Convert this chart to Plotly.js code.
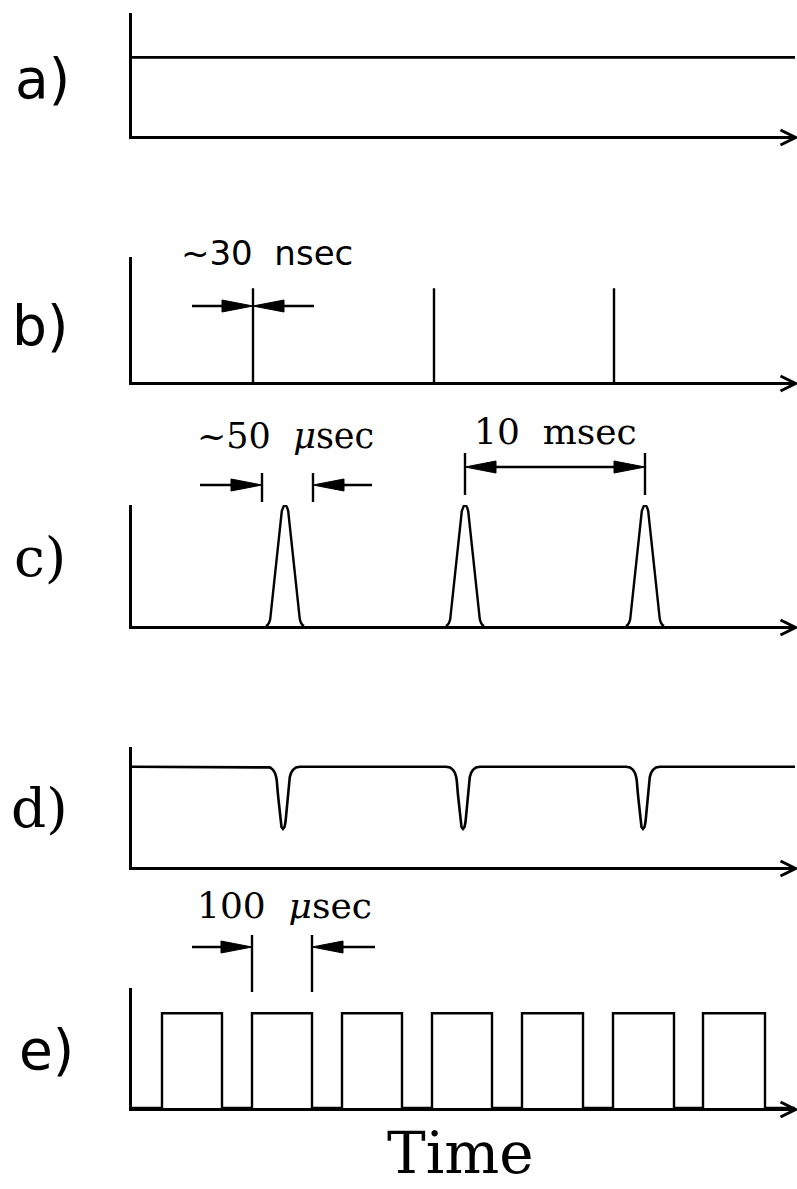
<!DOCTYPE html>
<html>
<head>
<meta charset="utf-8">
<script src="https://cdn.plot.ly/plotly-3.0.1.min.js"></script>
<style>
html,body{margin:0;padding:0;background:#fff;}
#chart{width:797px;height:1189px;}
</style>
</head>
<body>
<div id="chart"></div>
<script>
const W = 797, H = 1189;

// ---------------- data (time in arbitrary units, 0 = vertical axis) ----------------
const timeAxisRange = [0, 663];
const panelLabels = ['a)', 'b)', 'c)', 'd)', 'e)'];

// a) continuous signal
const cwTimes = [0, 663];
const cwLevels = [0.64, 0.64];

// b) ~30 nsec spikes
const spikeTimes = [121, 302, 482];
const spikeHeights = [0.75, 0.75, 0.75];

// c) ~50 usec pulses, 10 msec apart
const pulseCTimes = [153, 333, 513];
const pulseCOffsets = [-19, -17.5, -16, -14.8, -3.2, -2.2, -1.2, 0, 1.2, 2.2, 3.2, 14.8, 16, 17.5, 19];
const pulseCLevels  = [0, 0.008, 0.025, 0.055, 0.95, 0.978, 0.992, 0.996, 0.992, 0.978, 0.95, 0.055, 0.025, 0.008, 0];
const cWidthTicks = [130, 181];

// d) dips in a steady level
const dipTimes = [151, 331, 511];
const dipBaseline = 0.835;
const dipOffsets = [-17, -13, -10, -8, -6.8, -6.2, -5, -2.5, -1.5, 0, 1.5, 2.5, 5, 6.2, 6.8, 8, 10, 13, 17];
const dipLevels  = [0.835, 0.83, 0.81, 0.783, 0.75, 0.717, 0.6, 0.375, 0.333, 0.317, 0.333, 0.375, 0.6, 0.717, 0.75, 0.783, 0.81, 0.83, 0.835];

// e) 100 usec square pulses
const squareRise = [30, 120, 210, 300, 390, 481, 571];
const squareFall = [90, 180, 270, 360, 451, 542, 633];
const squareHigh = 0.79;

// text
const textB = '~30\u00a0\u00a0nsec';
const textCWidth = '~50\u00a0\u00a0<i>\u03bc</i>sec';
const textCPeriod = '10\u00a0\u00a0msec';
const textE = '100\u00a0\u00a0<i>\u03bc</i>sec';
const xTitle = 'Time';

// ---------------- layout geometry ----------------
const panelTop = [13, 257, 505, 747, 988];
const panelBottom = [136, 382, 626, 867, 1108];
const xDomain = [132 / W, 795 / W];
const py = p => 1 - p / H;
const px = p => p / W;

const traces = [];
const lineStyle = w => ({color: '#000', width: w});

// a
traces.push({x: cwTimes, y: cwLevels, xaxis: 'x', yaxis: 'y', mode: 'lines', line: lineStyle(2.8), hoverinfo: 'skip'});

// b
const bx = [], by = [];
spikeTimes.forEach((t, i) => { bx.push(t, t, null); by.push(0, spikeHeights[i], null); });
traces.push({x: bx, y: by, xaxis: 'x2', yaxis: 'y2', mode: 'lines', line: lineStyle(2.4), hoverinfo: 'skip'});

// c
const cx = [], cy = [];
pulseCTimes.forEach(t => {
  pulseCOffsets.forEach((o, i) => { cx.push(t + o); cy.push(pulseCLevels[i]); });
  cx.push(null); cy.push(null);
});
traces.push({x: cx, y: cy, xaxis: 'x3', yaxis: 'y3', mode: 'lines', line: lineStyle(2.4), hoverinfo: 'skip'});

// d
const dx = [timeAxisRange[0]], dy = [dipBaseline];
dipTimes.forEach(t => { dipOffsets.forEach((o, i) => { dx.push(t + o); dy.push(dipLevels[i]); }); });
dx.push(timeAxisRange[1]); dy.push(dipBaseline);
traces.push({x: dx, y: dy, xaxis: 'x4', yaxis: 'y4', mode: 'lines', line: lineStyle(2.6), hoverinfo: 'skip'});

// e
const ex = [timeAxisRange[0]], ey = [0];
squareRise.forEach((r, i) => { ex.push(r, r, squareFall[i], squareFall[i]); ey.push(0, squareHigh, squareHigh, 0); });
ex.push(timeAxisRange[1]); ey.push(0);
traces.push({x: ex, y: ey, xaxis: 'x5', yaxis: 'y5', mode: 'lines', line: lineStyle(2.4), hoverinfo: 'skip'});

const layout = {
  width: W, height: H,
  margin: {l: 0, r: 0, t: 0, b: 0},
  paper_bgcolor: '#fff', plot_bgcolor: 'rgba(0,0,0,0)',
  showlegend: false,
  shapes: [], annotations: []
};

const axisBase = {showline: true, linecolor: '#000', linewidth: 3, ticks: '', showticklabels: false,
  showgrid: false, zeroline: false, fixedrange: true};

for (let i = 0; i < 5; i++) {
  const k = i === 0 ? '' : String(i + 1);
  layout['xaxis' + k] = Object.assign({}, axisBase, {domain: xDomain, range: timeAxisRange, anchor: 'y' + k});
  layout['yaxis' + k] = Object.assign({}, axisBase, {domain: [py(panelBottom[i]), py(panelTop[i])], range: [0, 1], anchor: 'x' + k});
  // open arrow head at end of time axis
  layout.shapes.push({type: 'path', xref: 'paper', yref: 'paper', xsizemode: 'pixel', ysizemode: 'pixel',
    xanchor: px(795.5), yanchor: py(panelBottom[i] + 1.5), path: 'M-15,7.5L0,0L-15,-7.5',
    line: {color: '#000', width: 3}});
  // panel label
  layout.annotations.push({text: panelLabels[i], xref: 'paper', yref: 'paper',
    x: px([42, 40, 40, 39, 46][i]), y: py([79, 326, 557, 808, 1050][i]),
    xanchor: 'center', yanchor: 'middle', showarrow: false,
    font: {family: ['DejaVu Sans', 'DejaVu Sans', 'DejaVu Serif', 'DejaVu Serif', 'DejaVu Sans'][i], size: 55, color: '#000'}});
}

function dimArrow(tip, tail, yPx) {
  const dir = Math.sign(tip - tail);
  const yp = py(yPx);
  layout.shapes.push({type: 'line', xref: 'x', yref: 'paper', x0: tail, x1: tip - dir * 12, y0: yp, y1: yp,
    line: {color: '#000', width: 2.4}});
  layout.shapes.push({type: 'path', xref: 'x', yref: 'paper', xsizemode: 'pixel', ysizemode: 'pixel',
    xanchor: tip, yanchor: yp, path: 'M0,0L' + (-dir * 31) + ',6L' + (-dir * 31) + ',-6Z',
    fillcolor: '#000', line: {color: '#000', width: 1}});
}
function tick(x, y0Px, y1Px) {
  layout.shapes.push({type: 'line', xref: 'x', yref: 'paper', x0: x, x1: x, y0: py(y0Px), y1: py(y1Px),
    line: {color: '#000', width: 2.4}});
}
function label(text, xPx, yPx, family, size, anchor) {
  layout.annotations.push({text: text, xref: 'paper', yref: 'paper', x: px(xPx), y: py(yPx),
    xanchor: 'center', yanchor: anchor || 'middle', showarrow: false, borderpad: 0,
    font: {family: family, size: size, color: '#000'}});
}

// b) annotation
dimArrow(spikeTimes[0], 60, 306);
dimArrow(spikeTimes[0], 182, 306);
label(textB, 267, 253, 'DejaVu Sans', 34);

// c) width annotation
tick(cWidthTicks[0], 473, 502);
tick(cWidthTicks[1], 473, 502);
dimArrow(cWidthTicks[0], 68, 485);
dimArrow(cWidthTicks[1], 240, 485);
label(textCWidth, 285, 436, 'DejaVu Serif', 35);

// c) period annotation
tick(pulseCTimes[1], 453, 495);
tick(pulseCTimes[2], 453, 495);
const mid = (pulseCTimes[1] + pulseCTimes[2]) / 2;
dimArrow(pulseCTimes[1], mid, 467);
dimArrow(pulseCTimes[2], mid, 467);
label(textCPeriod, 555, 432, 'DejaVu Serif', 36);

// e) annotation
tick(squareRise[1], 935, 992);
tick(squareFall[1], 935, 992);
dimArrow(squareRise[1], 60, 947);
dimArrow(squareFall[1], 243, 947);
label(textE, 284, 905, 'DejaVu Serif', 36);

// time axis title
label(xTitle, 460, 1188, 'DejaVu Serif', 58, 'bottom');

Plotly.newPlot('chart', traces, layout, {staticPlot: true, displayModeBar: false});
</script>
</body>
</html>
